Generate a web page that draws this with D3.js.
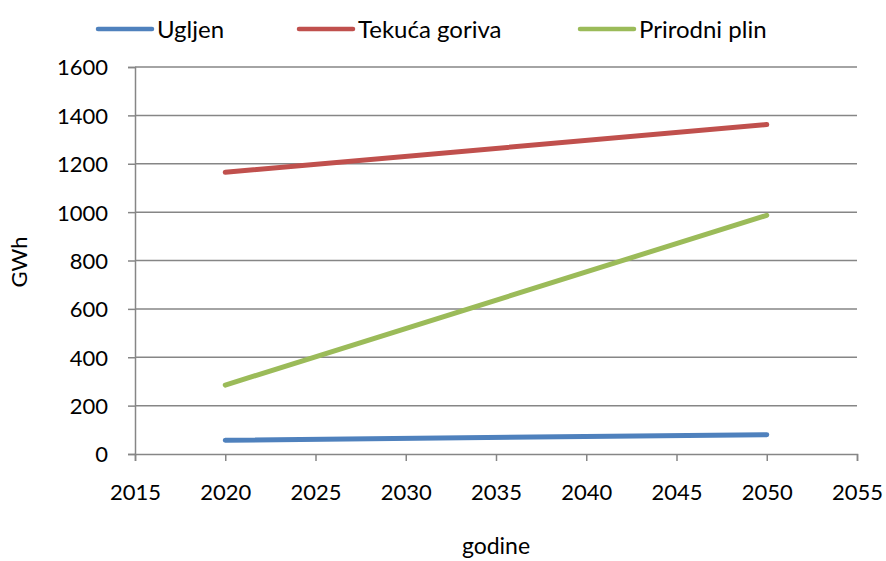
<!DOCTYPE html>
<html>
<head>
<meta charset="utf-8">
<script src="https://cdn.jsdelivr.net/npm/d3@7"></script>
<style>
  body { margin: 0; background: #fff; }
  text { font-family: Lato, "Open Sans", sans-serif; fill: #000; }
</style>
</head>
<body>
<svg id="chart" width="886" height="561"></svg>
<script>
// data
var years = [2020, 2050];
var ugljen = [57, 80];
var tekuca = [1165, 1362];
var plin = [285, 987];
var seriesNames = ["Ugljen", "Tekuća goriva", "Prirodni plin"];
var seriesColors = ["#4F81BD", "#C0504D", "#9BBB59"];
var xTicks = [2015, 2020, 2025, 2030, 2035, 2040, 2045, 2050, 2055];
var yTicks = [0, 200, 400, 600, 800, 1000, 1200, 1400, 1600];

var svg = d3.select("#chart");
var tickFont = 22;
var titleFont = 23;

var x = d3.scaleLinear().domain([2015, 2055]).range([135, 857]);
var y = d3.scaleLinear().domain([0, 1600]).range([454, 67]);
var gray = "#868686";

// gridlines
svg.append("g")
  .selectAll("line")
  .data(yTicks.slice(1))
  .enter()
  .append("line")
  .attr("x1", x(2015)).attr("x2", x(2055))
  .attr("y1", function(d) { return y(d); })
  .attr("y2", function(d) { return y(d); })
  .style("stroke", gray)
  .style("stroke-width", 1.5);

// y axis
var yAxis = svg.append("g")
  .attr("transform", "translate(" + x(2015) + ",0)")
  .call(d3.axisLeft(y).tickValues(yTicks).tickSize(7).tickFormat(d3.format("d")));
// x axis
var xAxis = svg.append("g")
  .attr("transform", "translate(0," + y(0) + ")")
  .call(d3.axisBottom(x).tickValues(xTicks).tickSize(7).tickPadding(23).tickFormat(d3.format("d")));

[yAxis, xAxis].forEach(function(ax) {
  ax.select(".domain").style("stroke", gray).style("stroke-width", 1.5);
  ax.selectAll(".tick line").style("stroke", gray).style("stroke-width", 1.5);
  ax.selectAll("text").style("font-size", tickFont + "px").style("font-family", "Lato, sans-serif").attr("fill", "#000");
});
yAxis.selectAll(".tick text").attr("x", -27).attr("dy", "0.36em");

// lines
var line = d3.line()
  .x(function(d, i) { return x(years[i]); })
  .y(function(d) { return y(d); });

[ugljen, tekuca, plin].forEach(function(vals, i) {
  svg.append("path")
    .datum(vals)
    .attr("d", line)
    .attr("fill", "none")
    .style("stroke", seriesColors[i])
    .style("stroke-width", 5)
    .style("stroke-linecap", "round");
});

// legend
var legendX = [98, 299, 580];
var legend = svg.append("g")
  .selectAll("g")
  .data(seriesNames)
  .enter()
  .append("g")
  .attr("transform", function(d, i) { return "translate(" + legendX[i] + ",29)"; });
legend.append("line")
  .attr("x1", 0).attr("x2", 54)
  .style("stroke", function(d, i) { return seriesColors[i]; })
  .style("stroke-width", 4.5)
  .style("stroke-linecap", "round");
legend.append("text")
  .attr("x", 59)
  .attr("dy", "0.36em")
  .style("font-size", "24px")
  .text(function(d) { return d; });

// axis titles
svg.append("text")
  .attr("transform", "translate(27,262) rotate(-90)")
  .attr("text-anchor", "middle")
  .style("font-size", tickFont + "px")
  .text("GWh");
svg.append("text")
  .attr("x", 496)
  .attr("y", 554)
  .attr("text-anchor", "middle")
  .style("font-size", titleFont + "px")
  .text("godine");
</script>
</body>
</html>
